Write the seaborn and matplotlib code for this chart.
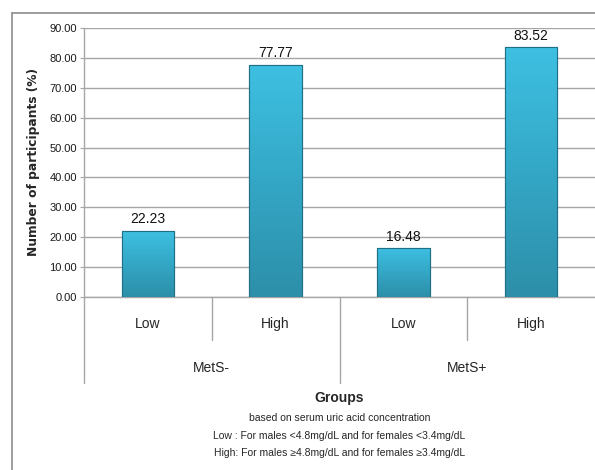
import numpy as np
import pandas as pd
import matplotlib
matplotlib.use("Agg")
import matplotlib.pyplot as plt
from matplotlib.colors import LinearSegmentedColormap
from matplotlib.patches import Rectangle
import seaborn as sns

# Data
groups = ["MetS-", "MetS-", "MetS+", "MetS+"]
levels = ["Low", "High", "Low", "High"]
percent = [22.23, 77.77, 16.48, 83.52]
yticks = [0, 10, 20, 30, 40, 50, 60, 70, 80, 90]
note_lines = [
    "based on serum uric acid concentration",
    "Low : For males <4.8mg/dL and for females <3.4mg/dL",
    "High: For males \u22654.8mg/dL and for females \u22653.4mg/dL",
]

sns.set_style("white")
plt.rcParams["font.family"] = ["Liberation Sans", "DejaVu Sans"]

df = pd.DataFrame({
    "bar": [f"{g} {l}" for g, l in zip(groups, levels)],
    "percent": percent,
})

fig = plt.figure(figsize=(5.95, 4.70), dpi=100)
W, H = 595, 470
ax = fig.add_axes([84 / W, 1 - 297 / H, (595 - 84) / W, (297 - 28) / H])

sns.barplot(data=df, x="bar", y="percent", ax=ax, width=0.41,
            color="#35A9C9", edgecolor="#1F6F86", linewidth=0.8, zorder=3)

ax.set_ylim(0, 90)
ax.set_xlim(-0.5, 3.5)
ax.set_yticks(yticks)
ax.set_yticklabels([f"{v:.2f}" for v in yticks], fontsize=8, color="#1A1A1A")
ax.yaxis.grid(True, color="#A6A6A6", linewidth=1.0, zorder=0)
ax.set_axisbelow(True)
ax.set_xticks([])
ax.set_xlabel("")
ax.set_ylabel("Number of participants (%)", fontsize=8.8, fontweight="bold",
              family=["DejaVu Sans"], labelpad=7)
for s in ["top", "right"]:
    ax.spines[s].set_visible(False)
for s in ["left", "bottom"]:
    ax.spines[s].set_color("#A6A6A6")
    ax.spines[s].set_linewidth(1.0)
ax.tick_params(axis="y", length=3, color="#A6A6A6", pad=2, left=True)

# vertical gradient fill inside each bar
cmap = LinearSegmentedColormap.from_list("bar", ["#2D8FA9", "#34A7C6", "#3EC0E2"])
grad = np.linspace(0, 1, 256).reshape(-1, 1)
for p in ax.patches:
    x0, y0 = p.get_x(), p.get_y()
    w, h = p.get_width(), p.get_height()
    im = ax.imshow(grad, cmap=cmap, origin="lower", aspect="auto",
                   extent=[x0, x0 + w, y0, y0 + h], zorder=3.5)
    im.set_clip_path(p)
    ax.add_patch(Rectangle((x0, y0), w, h, fill=False, edgecolor="#1F6F86",
                           linewidth=0.8, zorder=4))
ax.set_xlim(-0.5, 3.5)
ax.set_ylim(0, 90)

ax.bar_label(ax.containers[0], labels=[f"{v:.2f}" for v in percent],
             padding=3, fontsize=10, color="#111111")

# hierarchical category axis
tr = ax.get_xaxis_transform()
line_kw = dict(color="#A6A6A6", linewidth=1.0, clip_on=False, transform=tr)
ax.plot([-0.5, -0.5], [0, -0.32], **line_kw)
ax.plot([0.5, 0.5], [0, -0.16], **line_kw)
ax.plot([1.5, 1.5], [0, -0.32], **line_kw)
ax.plot([2.5, 2.5], [0, -0.16], **line_kw)

for i, lv in enumerate(levels):
    ax.text(i, -0.10, lv, transform=tr, ha="center", va="center", fontsize=10)
for c, g in zip([0.5, 2.5], ["MetS-", "MetS+"]):
    ax.text(c, -0.264, g, transform=tr, ha="center", va="center", fontsize=10)

ax.text(1.5, -0.375, "Groups", transform=tr, ha="center", va="center",
        fontsize=10, fontweight="bold")
for yy, t in zip([-0.45, -0.517, -0.58], note_lines):
    ax.text(1.5, yy, t, transform=tr, ha="center", va="center", fontsize=7.5)

# chart frame
fig.add_artist(plt.Line2D([12 / W, 12 / W], [1 - 13 / H, 0], color="#8C8C8C", linewidth=1.2))
fig.add_artist(plt.Line2D([12 / W, 1], [1 - 13 / H, 1 - 13 / H], color="#8C8C8C", linewidth=1.2))

fig.savefig("out.png", dpi=100, facecolor="white")
